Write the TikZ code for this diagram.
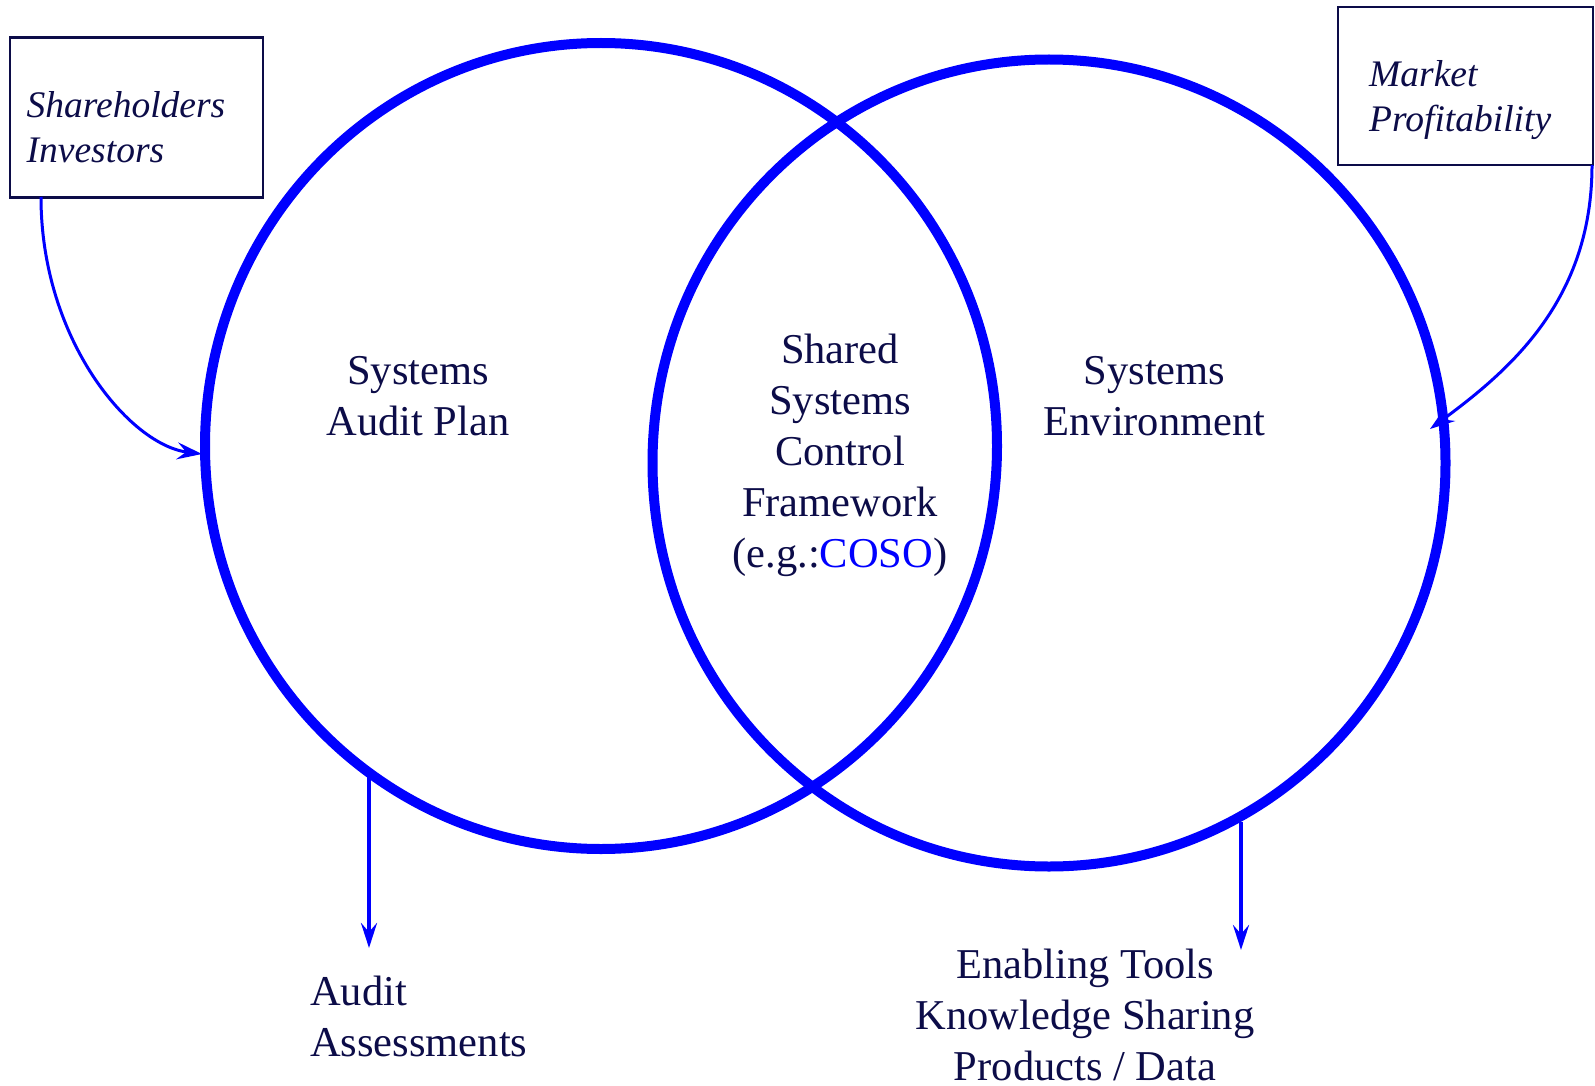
\documentclass[tikz,border=0pt]{standalone}
\usepackage{fontspec}
\setmainfont{Liberation Serif}
\usetikzlibrary{shapes.geometric,arrows.meta}
\definecolor{navy}{RGB}{12,12,72}
\definecolor{vblue}{RGB}{0,0,255}
\tikzset{
  venn/.style={draw=vblue, line width=10pt, ellipse, inner sep=0pt},
  srcbox/.style={draw=navy, line width=2.5pt, inner sep=0pt},
  lbl/.style={text=navy, align=center, inner sep=0pt, font=\fontsize{42.5}{51}\selectfont},
  boxlbl/.style={text=navy, align=left, anchor=west, inner sep=0pt, font=\fontsize{37.5}{45}\selectfont\itshape},
  flow/.style={draw=vblue, line width=3pt, -{Stealth[length=25pt,width=17pt,inset=9pt]}},
  outflow/.style={draw=vblue, line width=4.3pt, -{Stealth[length=25pt,width=16pt,inset=9pt]}}
}
\begin{document}
\begin{tikzpicture}[x=1pt,y=-1pt]
\useasboundingbox (0,0) rectangle (1595,1086);
% circles
\node[venn, minimum width=792pt, minimum height=806pt] (L) at (601,446) {};
\node[venn, minimum width=793pt, minimum height=807pt] (R) at (1049,463) {};
% boxes
\node[srcbox, minimum width=253pt, minimum height=160pt] (sh) at (136.5,117.5) {};
\node[srcbox, minimum width=255pt, minimum height=158pt] (mk) at (1465.5,86) {};
\node[boxlbl] (shT) at (26.5,127.5) {Shareholders\\Investors};
\node[boxlbl] (mkT) at (1369,100.5) {Market\\Profitability};
% labels
\node[lbl] (lT) at (418,396.5) {Systems\\Audit Plan};
\node[lbl] (cT) at (840,455.5) {Shared\\Systems\\Control\\Framework\\(e.g.:\textcolor{vblue}{COSO})};
\node[lbl] (rT) at (1154.5,396.5) {Systems\\Environment};
\node[lbl, align=left, anchor=west] (aT) at (310,1016) {Audit\\Assessments};
\node[lbl] (eT) at (1085,1015) {Enabling Tools\\Knowledge Sharing\\Products / Data};
% connector endpoints
\coordinate (shOut) at (41,197);
\coordinate (lIn) at (202,454);
\coordinate (mkOut) at (1592,165);
\coordinate (rIn) at (1430,429);
\coordinate (lOut) at (369,775);
\coordinate (lTip) at (369,948);
\coordinate (rOut) at (1241,822);
\coordinate (rTip) at (1241,950);
% connectors
\draw[flow] (shOut) .. controls (41,340) and (130,445) .. (lIn);
\draw[flow] (mkOut) .. controls (1592,300) and (1510,370) .. (rIn);
\draw[outflow] (lOut) -- (lTip);
\draw[outflow] (rOut) -- (rTip);
\end{tikzpicture}
\end{document}
